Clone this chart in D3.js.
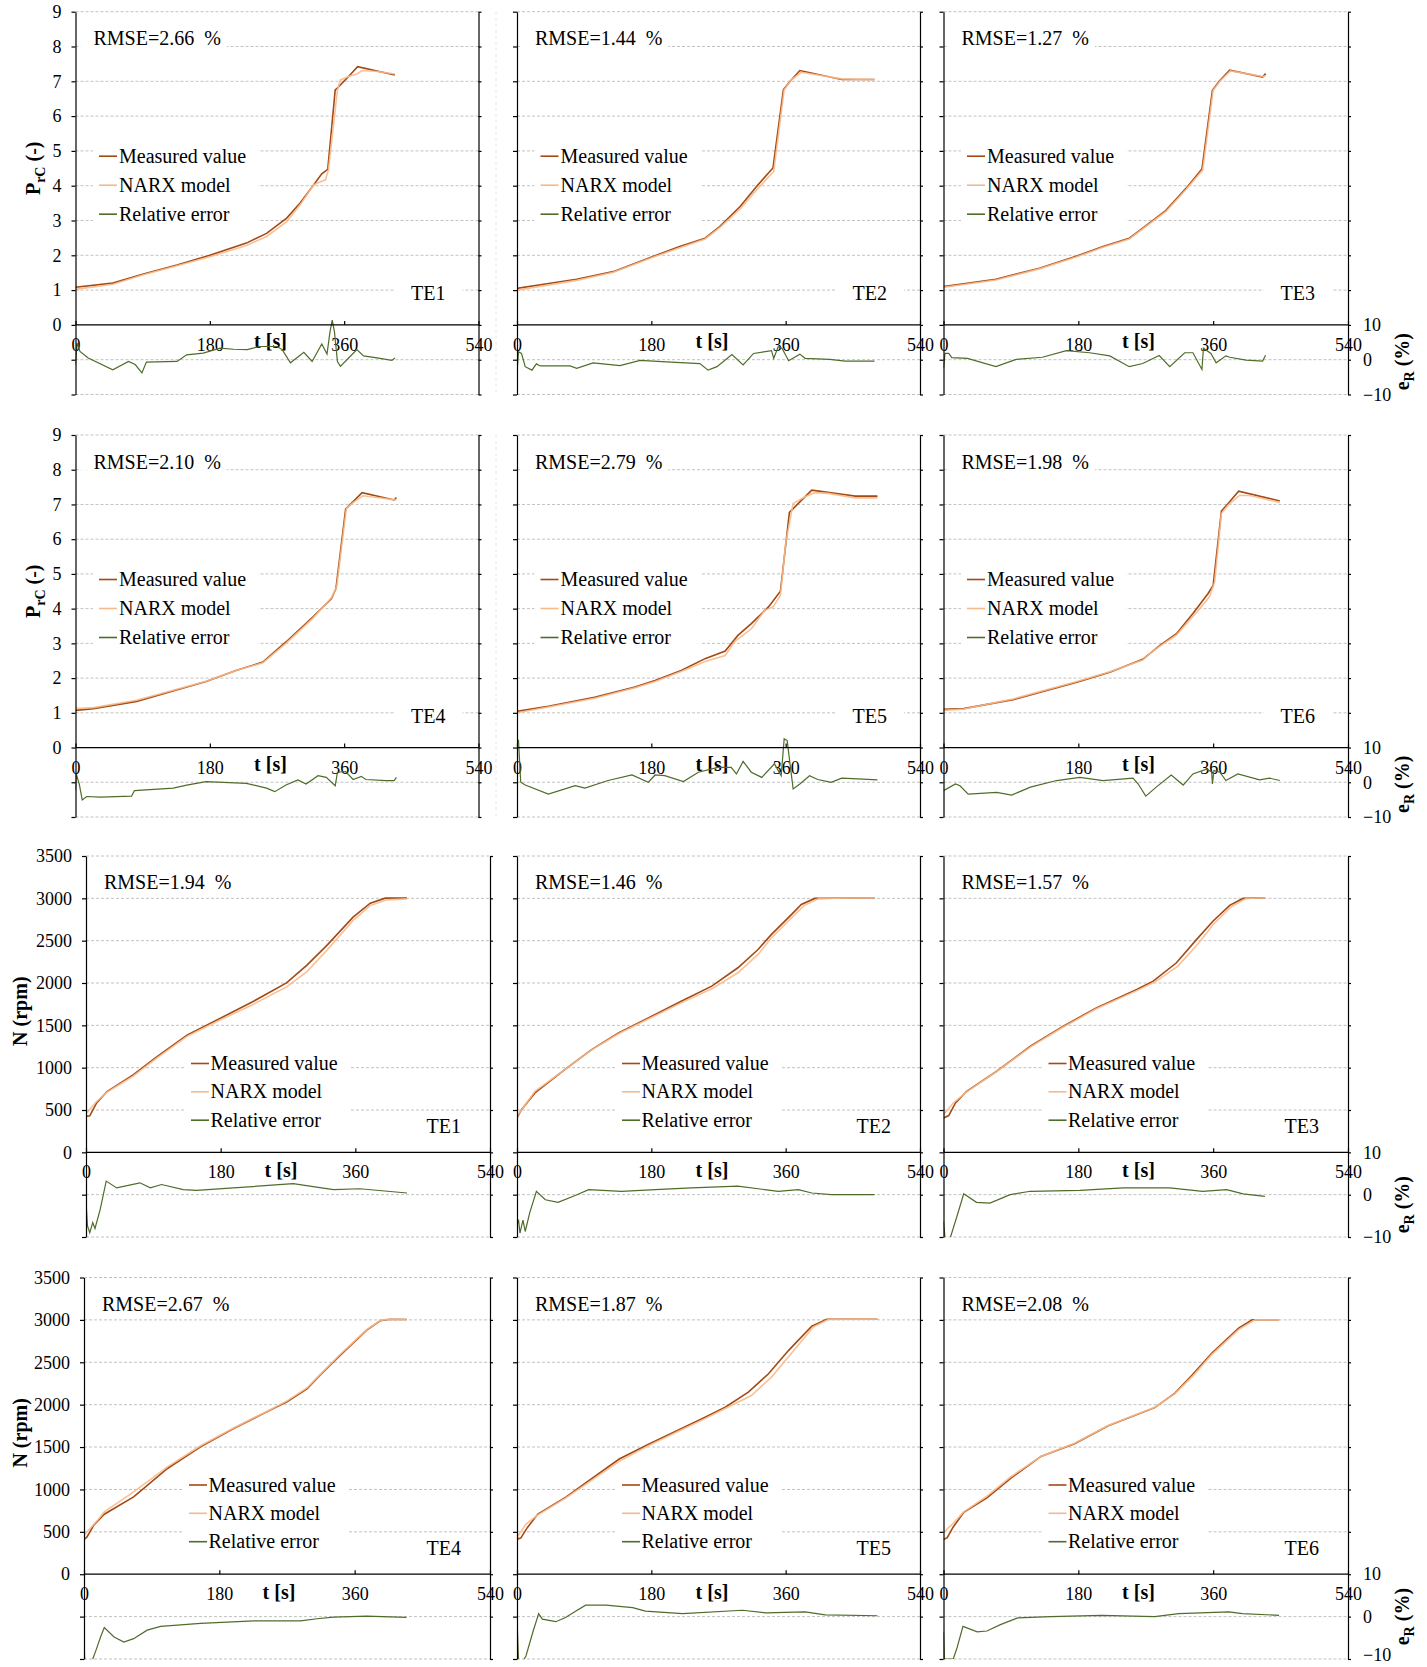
<!DOCTYPE html>
<html>
<head>
<meta charset="utf-8">
<script src="https://cdn.jsdelivr.net/npm/d3@7"></script>
<style>
  body { margin: 0; background: #fff; }
</style>
</head>
<body>
<div id="chart"></div>
<script>
// ---------- data ----------
var tests = ["TE1", "TE2", "TE3", "TE4", "TE5", "TE6"];
var rmsePrc = ["2.66", "1.44", "1.27", "2.10", "2.79", "1.98"];
var rmseSpeed = ["1.94", "1.46", "1.57", "2.67", "1.87", "2.08"];
var timeTicks = [0, 180, 360, 540];
var prcTicks = [0, 1, 2, 3, 4, 5, 6, 7, 8, 9];
var speedTicks = [0, 500, 1000, 1500, 2000, 2500, 3000, 3500];
var errTicks = [-10, 0, 10];
var legendLabels = ["Measured value", "NARX model", "Relative error"];

// pressure ratio P_rC, points are [t (s), value]
var prcMeasTE1 = [[0,1.08],[50,1.2],[91,1.46],[136,1.72],[180,2.0],[229,2.35],[256,2.63],[283,3.07],[301,3.5],[319,4.02],[330,4.34],[338,4.47],[348,6.75],[352,6.83],[366,7.14],[378,7.42],[428,7.18]];
var prcNarxTE1 = [[0,1.02],[50,1.17],[91,1.44],[136,1.7],[180,1.96],[229,2.28],[256,2.54],[283,2.97],[301,3.45],[319,4.02],[326,4.09],[335,4.17],[339,4.46],[351,6.75],[355,7.04],[366,7.14],[377,7.21],[384,7.31],[405,7.28],[428,7.21]];
var prcErrTE1 = [[0,-1.4],[2,4.8],[6,2.4],[17,0.5],[50,-2.9],[71,-0.5],[80,-1.4],[89,-3.8],[95,-0.7],[136,-0.5],[149,1.4],[171,1.9],[194,3.3],[212,3.0],[230,2.9],[247,3.8],[270,3.8],[277,2.9],[288,-0.9],[306,2.1],[317,-0.5],[330,4.5],[337,1.6],[341,8],[344,11.4],[347,8],[351,-0.5],[355,-1.9],[366,0.5],[377,2.9],[386,1.1],[404,0.5],[424,-0.2],[428,0.5]];

var prcMeasTE2 = [[0,1.05],[80,1.31],[129,1.53],[183,1.97],[218,2.25],[252,2.49],[272,2.83],[299,3.4],[321,3.98],[343,4.51],[357,6.76],[366,7.0],[379,7.31],[435,7.05],[479,7.05]];
var prcNarxTE2 = [[0,1.0],[80,1.28],[129,1.51],[183,1.95],[218,2.22],[252,2.47],[272,2.8],[299,3.33],[321,3.88],[344,4.41],[358,6.76],[368,7.05],[381,7.26],[435,7.07],[479,7.05]];
var prcErrTE2 = [[0,-3.9],[2,2.3],[6,1.8],[11,-2.0],[20,-3.0],[26,-1.2],[31,-1.8],[71,-1.8],[80,-2.5],[102,-0.9],[138,-1.7],[165,-0.2],[200,-0.6],[245,-1.1],[256,-3.0],[268,-2.0],[288,1.5],[303,-1.5],[317,1.8],[341,2.6],[344,0.4],[350,3.7],[355,3.3],[364,-0.3],[379,1.6],[386,0.4],[419,0.1],[440,-0.4],[479,-0.4]];

var prcMeasTE3 = [[0,1.1],[70,1.31],[128,1.63],[177,1.97],[213,2.25],[248,2.49],[266,2.78],[297,3.29],[324,3.93],[345,4.48],[359,6.74],[368,7.0],[382,7.32],[426,7.12],[430,7.22]];
var prcNarxTE3 = [[0,1.08],[70,1.29],[128,1.61],[177,1.95],[213,2.23],[248,2.47],[266,2.76],[297,3.26],[324,3.9],[346,4.45],[360,6.74],[369,7.0],[383,7.3],[426,7.14],[430,7.16]];
var prcErrTE3 = [[0,-2.5],[2,1.8],[7,1.8],[11,0.6],[32,0.4],[70,-2.0],[97,0.1],[132,0.7],[164,2.6],[195,2.0],[222,1.1],[248,-2.0],[266,-1.1],[288,1.2],[302,-2.0],[322,2.0],[333,2.0],[345,-2.8],[347,3.3],[357,1.8],[364,-0.9],[377,1.1],[382,0.7],[404,-0.1],[426,-0.4],[430,1.3]];

var prcMeasTE4 = [[0,1.07],[24,1.12],[82,1.33],[126,1.6],[175,1.9],[215,2.22],[251,2.46],[282,3.04],[318,3.76],[343,4.29],[349,4.58],[362,6.87],[372,7.08],[384,7.34],[427,7.13],[430,7.2]];
var prcNarxTE4 = [[0,1.12],[24,1.15],[82,1.36],[126,1.62],[175,1.91],[215,2.22],[251,2.44],[282,3.0],[318,3.72],[343,4.32],[350,4.63],[363,6.89],[372,7.05],[385,7.25],[430,7.13]];
var prcErrTE4 = [[0,-2.4],[1,2.4],[5,-0.5],[9,-5.1],[15,-4.1],[33,-4.3],[75,-4.0],[79,-2.4],[131,-1.7],[149,-0.8],[175,0.2],[229,-0.3],[256,-1.7],[267,-2.7],[282,-0.8],[298,0.7],[309,-0.5],[325,1.9],[336,1.4],[348,-1.0],[351,2.9],[362,3.1],[372,0.8],[383,1.7],[389,0.8],[416,0.5],[427,0.5],[430,1.4]];

var prcMeasTE5 = [[0,1.04],[42,1.19],[104,1.45],[158,1.74],[185,1.93],[220,2.22],[252,2.56],[279,2.78],[296,3.23],[314,3.57],[337,4.05],[353,4.5],[365,6.77],[377,7.03],[395,7.41],[453,7.24],[483,7.24]];
var prcNarxTE5 = [[0,1.0],[42,1.17],[104,1.42],[158,1.72],[185,1.9],[220,2.19],[252,2.48],[279,2.65],[292,3.06],[314,3.42],[332,3.95],[343,4.05],[353,4.38],[360,5.88],[370,7.03],[386,7.22],[399,7.34],[417,7.32],[453,7.19],[483,7.19]];
var prcErrTE5 = [[0,11.5],[2,12.0],[5,0],[11,-0.8],[42,-3.4],[78,-1.0],[91,-1.7],[122,0.5],[154,2.1],[176,0],[185,2.1],[198,1.9],[223,0.2],[243,2.9],[269,4.3],[287,4.3],[294,2.4],[303,6.0],[314,2.9],[328,1.4],[345,5.3],[354,1.9],[358,12.5],[362,12.0],[370,-1.9],[379,-0.5],[392,1.9],[403,0.8],[421,0],[435,1.2],[457,1.0],[483,0.7]];

var prcMeasTE6 = [[0,1.1],[27,1.12],[93,1.38],[178,1.88],[222,2.17],[266,2.54],[289,2.94],[311,3.28],[333,3.86],[353,4.43],[360,4.67],[371,6.81],[380,7.03],[394,7.38],[449,7.1]];
var prcNarxTE6 = [[0,1.07],[27,1.11],[93,1.4],[178,1.9],[222,2.18],[266,2.52],[275,2.7],[289,2.92],[311,3.24],[338,3.9],[355,4.34],[362,4.77],[371,6.74],[380,6.98],[395,7.26],[409,7.26],[449,7.06]];
var prcErrTE6 = [[0,-2.4],[16,-0.5],[22,-1.0],[33,-3.4],[71,-2.9],[91,-3.7],[116,-1.4],[151,0.5],[182,1.4],[213,0.5],[253,1.2],[260,-0.5],[270,-4.0],[284,-1.4],[304,2.1],[320,-0.8],[333,2.4],[351,3.8],[358,3.0],[359,-0.5],[361,3.4],[369,2.9],[377,0.5],[393,2.4],[422,0.7],[435,1.2],[449,0.5]];

// speed N (rpm), points are [t (s), value]
var speedMeasTE1 = [[0,424],[5,432],[14,581],[28,718],[63,914],[95,1130],[135,1385],[179,1581],[224,1785],[268,2001],[295,2209],[322,2444],[357,2778],[380,2943],[400,3002],[429,3002]];
var speedNarxTE1 = [[0,455],[14,600],[28,710],[63,900],[95,1115],[135,1370],[179,1562],[224,1750],[268,1954],[295,2131],[322,2386],[357,2739],[380,2915],[402,2982],[429,2994]];
var speedErrTE1 = [[0,-1.5],[2,-7.4],[5,-9.0],[9,-6.6],[12,-8.0],[19,-3.5],[27,3.2],[41,1.6],[72,2.8],[86,1.6],[101,2.4],[130,1.2],[148,1.0],[197,1.6],[277,2.6],[308,1.8],[331,1.2],[366,1.4],[429,0.4]];

var speedMeasTE2 = [[0,406],[6,504],[24,702],[64,977],[100,1214],[136,1411],[176,1588],[220,1785],[261,1963],[296,2180],[323,2396],[341,2574],[368,2810],[381,2928],[399,2999],[479,3007]];
var speedNarxTE2 = [[0,426],[24,721],[64,977],[100,1210],[136,1400],[176,1575],[220,1765],[261,1931],[296,2121],[323,2337],[341,2534],[368,2771],[385,2917],[405,3000],[479,3007]];
var speedErrTE2 = [[0,-7.5],[2,-5.9],[4,-9.1],[8,-6.0],[11,-8.7],[17,-4.3],[26,0.8],[38,-1.2],[55,-1.8],[78,-0.2],[96,1.2],[140,0.8],[185,1.2],[234,1.6],[296,2.0],[332,1.2],[350,0.8],[377,1.2],[395,0.4],[421,0],[479,0]];

var speedMeasTE3 = [[0,406],[7,434],[16,583],[31,721],[71,958],[116,1253],[160,1490],[204,1706],[258,1923],[280,2022],[311,2239],[338,2515],[360,2732],[382,2917],[400,2999],[429,3007]];
var speedNarxTE3 = [[0,445],[13,583],[31,715],[71,955],[116,1245],[160,1480],[204,1695],[258,1910],[282,2010],[313,2200],[341,2475],[360,2692],[384,2901],[404,2999],[429,3007]];
var speedErrTE3 = [[0,-6.3],[2,-10.2],[9,-10.2],[18,-5.1],[27,0.2],[44,-1.8],[62,-2.0],[89,0],[116,0.8],[182,1.0],[240,1.6],[302,1.6],[346,0.8],[378,1.2],[400,0.2],[429,-0.4]];

var speedMeasTE4 = [[0,409],[4,440],[13,578],[27,708],[66,912],[111,1247],[155,1502],[199,1719],[243,1915],[270,2033],[297,2190],[314,2348],[341,2584],[376,2879],[394,2989],[407,3008],[429,3004]];
var speedNarxTE4 = [[0,460],[18,637],[27,735],[66,971],[111,1266],[155,1515],[199,1725],[243,1920],[270,2045],[297,2200],[314,2355],[341,2595],[376,2885],[394,2993],[407,3010],[429,3004]];
var speedErrTE4 = [[0,-5.6],[1,-10.5],[11,-10.3],[16,-7.9],[22,-4.8],[27,-2.6],[40,-4.8],[53,-6.0],[66,-5.2],[84,-3.2],[102,-2.3],[155,-1.6],[226,-1.0],[288,-1.0],[310,-0.5],[332,-0.1],[376,0.1],[429,-0.2]];

var speedMeasTE5 = [[0,414],[5,426],[14,552],[28,709],[65,906],[92,1076],[137,1359],[177,1537],[217,1703],[252,1852],[279,1970],[310,2148],[337,2365],[364,2641],[395,2925],[415,3008],[483,3008]];
var speedNarxTE5 = [[0,434],[12,591],[28,700],[65,898],[92,1060],[137,1332],[177,1520],[217,1690],[252,1835],[279,1955],[314,2108],[341,2325],[368,2609],[397,2917],[417,3005],[483,3008]];
var speedErrTE5 = [[0,-0.2],[2,-10.1],[8,-10.5],[12,-9.3],[21,-3.8],[29,0.7],[34,-0.6],[52,-1.2],[65,-0.2],[79,1.3],[92,2.7],[119,2.7],[155,2.1],[172,1.3],[222,0.7],[302,1.5],[333,0.9],[386,1.1],[413,0.4],[483,0.2]];

var speedMeasTE6 = [[0,409],[5,431],[13,558],[27,729],[58,900],[90,1134],[130,1390],[175,1539],[220,1752],[282,1965],[309,2136],[332,2349],[358,2605],[394,2903],[412,3001],[448,3001]];
var speedNarxTE6 = [[0,494],[13,601],[27,735],[58,920],[90,1150],[130,1390],[175,1545],[220,1755],[282,1970],[309,2130],[332,2330],[358,2590],[394,2885],[416,3001],[448,3001]];
var speedErrTE6 = [[0,-3.6],[1,-10],[13,-10],[18,-7.4],[26,-2.3],[45,-3.6],[58,-3.4],[76,-1.9],[99,-0.3],[143,0],[211,0.3],[282,0],[314,0.7],[381,1.1],[399,0.7],[448,0.3]];

var prcSeries = [
  [prcMeasTE1, prcNarxTE1, prcErrTE1], [prcMeasTE2, prcNarxTE2, prcErrTE2], [prcMeasTE3, prcNarxTE3, prcErrTE3],
  [prcMeasTE4, prcNarxTE4, prcErrTE4], [prcMeasTE5, prcNarxTE5, prcErrTE5], [prcMeasTE6, prcNarxTE6, prcErrTE6]
];
var speedSeries = [
  [speedMeasTE1, speedNarxTE1, speedErrTE1], [speedMeasTE2, speedNarxTE2, speedErrTE2], [speedMeasTE3, speedNarxTE3, speedErrTE3],
  [speedMeasTE4, speedNarxTE4, speedErrTE4], [speedMeasTE5, speedNarxTE5, speedErrTE5], [speedMeasTE6, speedNarxTE6, speedErrTE6]
];

// ---------- layout ----------
var colors = ["#a34a14", "#f8b98a", "#4f6c2a"];
var widths = [1.6, 1.6, 1.2];
var FONT = "'Liberation Serif','Times New Roman',serif";

var rows = [
  {top: 11.7, bottom: 394.5, kind: "prc", eDy: 2, cols: [[75.5, 478.5], [517, 920], [943.5, 1348]]},
  {top: 435, bottom: 817, kind: "prc", eDy: 2, cols: [[75.5, 478.5], [517, 920], [943.5, 1348]]},
  {top: 856, bottom: 1237, kind: "speed", eDy: 10, cols: [[86, 490], [517, 920], [943.5, 1348]]},
  {top: 1277.5, bottom: 1659, kind: "speed", eDy: 0, cols: [[84, 490], [517, 920], [943.5, 1348]]}
];
// text offsets inside a panel (px from panel left / top / right)
var layout = {
  prc:   {rmseX: 18, rmseY: 33.5, legX: 23.5, legTextX: 43.5, legY: [151, 180, 209], teRight: 33, teY: 288, tY: 23},
  speed: {rmseX: 18, rmseY: 33.3, legX: 105, legTextX: 124.5, legY: [214, 242.3, 270.7], teRight: 29, teY: 277, tY: 25}
};

var svg = d3.select("#chart").append("svg")
    .attr("width", 1427)
    .attr("height", 1667)
    .style("font-family", FONT);

// faint border of the first chart object in the top two rows
[0, 1].forEach(function(r) {
  svg.append("line")
      .attr("x1", 496).attr("x2", 496)
      .attr("y1", rows[r].top).attr("y2", rows[r].bottom)
      .attr("stroke", "#e6e6e6")
      .attr("stroke-dasharray", "3,3");
});

function boxBehind(layer, textSel, padL, padR, padT, padB) {
  var b = textSel.node().getBBox();
  layer.append("rect")
      .attr("x", b.x - padL)
      .attr("y", b.y - padT)
      .attr("width", b.width + padL + padR)
      .attr("height", b.height + padT + padB)
      .attr("fill", "#fff");
}

rows.forEach(function(row, r) {
  var isPrc = row.kind === "prc";
  var L = layout[row.kind];
  var grid = isPrc ? d3.range(-2, 10, 1) : d3.range(-1000, 3501, 500);
  var labelled = isPrc ? prcTicks : speedTicks;

  var y = d3.scaleLinear()
      .domain(isPrc ? [-2, 9] : [-1000, 3500])
      .range([row.bottom, row.top]);
  var e = d3.scaleLinear()
      .domain([-10, 10])
      .range([row.bottom, y(0)]);

  row.cols.forEach(function(col, c) {
    var k = (r % 2) * 3 + c;
    var series = isPrc ? prcSeries[k] : speedSeries[k];
    var rmse = isPrc ? rmsePrc[k] : rmseSpeed[k];

    var x = d3.scaleLinear()
        .domain([0, 540])
        .range(col);

    var g = svg.append("g");

    // dashed gridlines
    g.selectAll(".grid")
        .data(grid.filter(function(d) { return d !== 0; }))
      .enter().append("line")
        .attr("class", "grid")
        .attr("x1", col[0]).attr("x2", col[1])
        .attr("y1", function(d) { return y(d); })
        .attr("y2", function(d) { return y(d); })
        .attr("stroke", "#c2c2c2")
        .attr("stroke-width", 1)
        .attr("stroke-dasharray", "3,2");

    // x tick labels sit under the zero line
    var xAxis = d3.axisBottom(x)
        .tickValues(timeTicks)
        .tickSizeInner(-4)
        .tickSizeOuter(0)
        .tickFormat(d3.format("d"));
    var xg = g.append("g")
        .attr("transform", "translate(0," + y(0) + ")")
        .call(xAxis);
    xg.attr("font-family", null).attr("font-size", 18);
    xg.selectAll("text").attr("y", 26).attr("dy", null).attr("fill", "#000");
    xg.select(".domain").remove();
    xg.selectAll("line").attr("stroke", "#000").attr("stroke-width", 1.2);

    g.append("text")
        .attr("x", col[0] + 195)
        .attr("y", y(0) + L.tY)
        .attr("text-anchor", "middle")
        .attr("font-size", 20)
        .attr("font-weight", "bold")
        .text("t [s]");

    // data
    var clipId = "clip" + r + "_" + c;
    g.append("clipPath").attr("id", clipId)
      .append("rect")
        .attr("x", col[0]).attr("y", row.top)
        .attr("width", col[1] - col[0]).attr("height", row.bottom - row.top);

    var line = d3.line()
        .x(function(d) { return x(d[0]); })
        .y(function(d) { return y(d[1]); });
    var errLine = d3.line()
        .x(function(d) { return x(d[0]); })
        .y(function(d) { return e(d[1]); });

    var dg = g.append("g").attr("clip-path", "url(#" + clipId + ")");
    dg.append("path").datum(series[2]).attr("d", errLine)
        .attr("fill", "none").attr("stroke", colors[2]).attr("stroke-width", widths[2]);
    dg.append("path").datum(series[0]).attr("d", line)
        .attr("fill", "none").attr("stroke", colors[0]).attr("stroke-width", widths[0]);
    dg.append("path").datum(series[1]).attr("d", line)
        .attr("fill", "none").attr("stroke", colors[1]).attr("stroke-width", widths[1])
        .attr("stroke-opacity", 0.9);

    // text boxes (white background masks the gridlines)
    var boxes = g.append("g");
    var texts = g.append("g").attr("font-size", 20);

    var rt = texts.append("text")
        .attr("x", col[0] + L.rmseX)
        .attr("y", row.top + L.rmseY)
        .text("RMSE=" + rmse + "\u00a0\u00a0%");
    boxBehind(boxes, rt, 13, 6, -2, -2);

    var leg = texts.append("g");
    legendLabels.forEach(function(lab, i) {
      var by = row.top + L.legY[i];
      leg.append("line")
          .attr("x1", col[0] + L.legX).attr("x2", col[0] + L.legX + 18)
          .attr("y1", by - 6.5).attr("y2", by - 6.5)
          .attr("stroke", colors[i]).attr("stroke-width", 1.6);
      leg.append("text")
          .attr("x", col[0] + L.legTextX)
          .attr("y", by)
          .text(lab);
    });
    boxBehind(boxes, leg, 6, 12, 0, 2);

    var te = texts.append("text")
        .attr("x", col[1] - L.teRight)
        .attr("y", row.top + L.teY)
        .attr("text-anchor", "end")
        .text(tests[k]);
    boxBehind(boxes, te, 17, 17, -2, -2);

    // left axis
    var lAxis = d3.axisLeft(y)
        .tickValues(grid)
        .tickSizeInner(4)
        .tickSizeOuter(0)
        .tickPadding(10)
        .tickFormat(function(d) { return (c === 0 && labelled.indexOf(d) >= 0) ? d : ""; });
    var lg = g.append("g")
        .attr("transform", "translate(" + col[0] + ",0)")
        .call(lAxis);
    lg.attr("font-family", null).attr("font-size", 18);
    lg.selectAll("text").attr("fill", "#000");
    lg.selectAll("path,line").attr("stroke", "#000").attr("stroke-width", 1.2);

    // right axis (relative error)
    var rAxis = d3.axisRight(y)
        .tickValues(grid)
        .tickSizeInner(3)
        .tickSizeOuter(0)
        .tickFormat("");
    var rg = g.append("g")
        .attr("transform", "translate(" + col[1] + ",0)")
        .call(rAxis);
    rg.selectAll("path,line").attr("stroke", "#000").attr("stroke-width", 1.2);

    if (c === 2) {
      var eAxis = d3.axisRight(e)
          .tickValues(errTicks)
          .tickSize(0)
          .tickPadding(15)
          .tickFormat(d3.format("d"));
      var eg = g.append("g")
          .attr("transform", "translate(" + col[1] + ",0)")
          .call(eAxis);
      eg.attr("font-family", null).attr("font-size", 18);
      eg.select(".domain").remove();
      eg.selectAll("text").attr("fill", "#000");
      // keep the lowest label on the page in the last row
      if (r === rows.length - 1) {
        eg.selectAll("text").filter(function(d) { return d === -10; }).attr("dy", "0.1em");
      }

      var et = g.append("text")
          .attr("transform", "translate(1402," + (e(0) + row.eDy) + ") rotate(-90)")
          .attr("text-anchor", "middle")
          .attr("dy", "0.35em")
          .attr("font-size", 20)
          .attr("font-weight", "bold");
      et.append("tspan").text("e");
      et.append("tspan").attr("dy", 5).attr("font-size", 14).text("R");
      et.append("tspan").attr("dy", -5).text(" (%)");
    }

    // x axis line at zero
    g.append("line")
        .attr("x1", col[0]).attr("x2", col[1])
        .attr("y1", y(0)).attr("y2", y(0))
        .attr("stroke", "#000").attr("stroke-width", 1.3);

    if (c === 0) {
      var mid = (row.top + y(0)) / 2;
      var yt = g.append("text")
          .attr("font-size", 20)
          .attr("font-weight", "bold")
          .attr("text-anchor", "middle")
          .attr("dy", "0.35em");
      if (isPrc) {
        yt.attr("transform", "translate(33," + mid + ") rotate(-90)");
        yt.append("tspan").text("P");
        yt.append("tspan").attr("dy", 5).attr("font-size", 14).text("rC");
        yt.append("tspan").attr("dy", -5).text(" (-)");
      } else {
        yt.attr("transform", "translate(20," + (mid + 7) + ") rotate(-90)");
        yt.text("N (rpm)");
      }
    }
  });
});
</script>
</body>
</html>
